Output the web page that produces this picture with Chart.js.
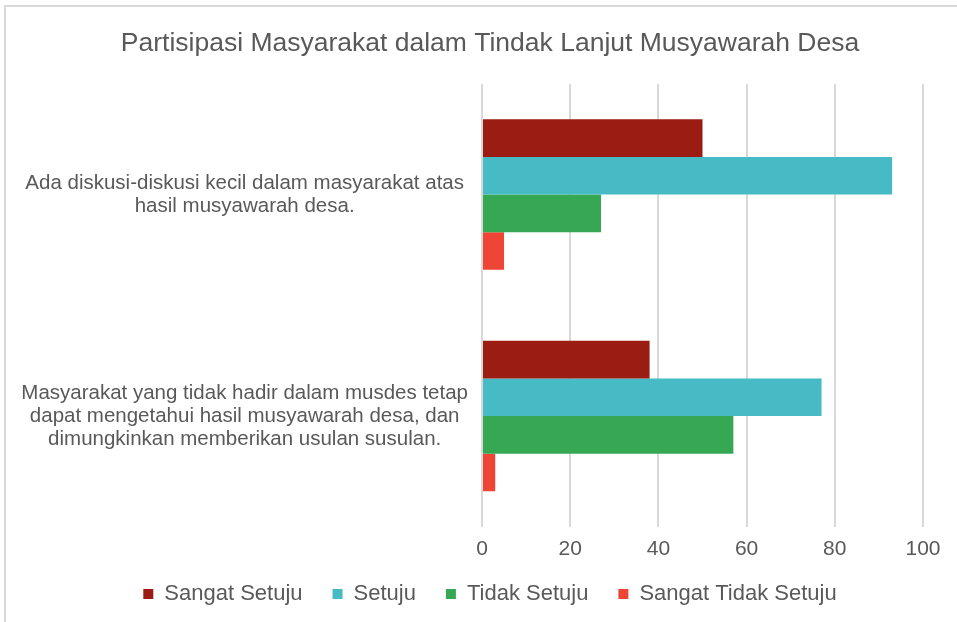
<!DOCTYPE html>
<html>
<head>
<meta charset="utf-8">
<script src="https://cdn.jsdelivr.net/npm/chart.js@4/dist/chart.umd.min.js"></script>
<style>
  html, body { margin: 0; padding: 0; background: #fff; }
  #frame { position: absolute; left: 4px; top: 5px; width: 1000px; height: 700px; border: 2px solid #d9d9d9; box-sizing: border-box; }
  #wrap { position: absolute; left: 0; top: 0; width: 957px; height: 622px; }
</style>
</head>
<body>
<div id="frame"></div>
<div id="wrap"><canvas id="c"></canvas></div>
<script>
const categories = [
  ["Ada diskusi-diskusi kecil dalam masyarakat atas", "hasil musyawarah desa."],
  ["Masyarakat yang tidak hadir dalam musdes tetap", "dapat mengetahui hasil musyawarah desa, dan", "dimungkinkan memberikan usulan susulan."]
];
const seriesNames = ["Sangat Setuju", "Setuju", "Tidak Setuju", "Sangat Tidak Setuju"];
const sangatSetuju = [50, 38];
const setuju = [93, 77];
const tidakSetuju = [27, 57];
const sangatTidakSetuju = [5, 3];
const xTicks = [0, 20, 40, 60, 80, 100];

const colors = ["#9a1c12", "#46bbc6", "#36a854", "#ee4536"];
const values = [sangatSetuju, setuju, tidakSetuju, sangatTidakSetuju];

Chart.defaults.font.family = "'Liberation Sans', Arial, sans-serif";
Chart.defaults.color = "#595959";

const LEGEND_SHIFT = 19;
const CENTER_OFFSET = 57;
const layoutTweaks = {
  id: 'layoutTweaks',
  beforeLayout(chart) {
    const lg = chart.legend;
    if (lg && !lg._patchedFit) {
      const origFit = lg.fit;
      lg.fit = function () { origFit.call(this); this.height -= LEGEND_SHIFT; };
      lg._patchedFit = true;
    }
  },
  afterLayout(chart) {
    const lg = chart.legend;
    if (lg) { lg.top -= LEGEND_SHIFT; lg.left += CENTER_OFFSET; }
    const tb = chart.titleBlock;
    if (tb) { tb.left += CENTER_OFFSET; }
  }
};

new Chart(document.getElementById('c'), {
  type: 'bar',
  data: {
    labels: categories,
    datasets: seriesNames.map((n, i) => ({
      label: n,
      data: values[i],
      backgroundColor: colors[i],
      borderWidth: 0,
      categoryPercentage: 0.68,
      barPercentage: 1.0
    }))
  },
  plugins: [layoutTweaks],
  options: {
    indexAxis: 'y',
    responsive: true,
    maintainAspectRatio: false,
    animation: false,
    layout: { padding: { left: 0, right: 34, top: 10, bottom: 7 } },
    plugins: {
      title: {
        display: true,
        text: 'Partisipasi Masyarakat dalam Tindak Lanjut Musyawarah Desa',
        font: { size: 26.5, weight: 'normal' },
        color: '#595959',
        padding: { top: 18, bottom: 24 }
      },
      legend: {
        position: 'bottom',
        labels: {
          boxWidth: 10,
          boxHeight: 10,
          padding: 30,
          font: { size: 22 },
          color: '#595959'
        }
      },
      tooltip: { enabled: false }
    },
    scales: {
      x: {
        min: 0, max: 100,
        afterBuildTicks: (ax) => { ax.ticks = xTicks.map(v => ({ value: v })); },
        grid: { color: '#d9d9d9', lineWidth: 2, drawTicks: false },
        border: { display: false },
        ticks: { font: { size: 21 }, color: '#595959', padding: 10 }
      },
      y: {
        afterFit: (ax) => { ax.width = 482; },
        grid: { display: false },
        border: { display: false },
        ticks: { font: { size: 20.5, lineHeight: 1.13 }, color: '#595959', crossAlign: 'center', padding: 6 }
      }
    }
  }
});
</script>
</body>
</html>
